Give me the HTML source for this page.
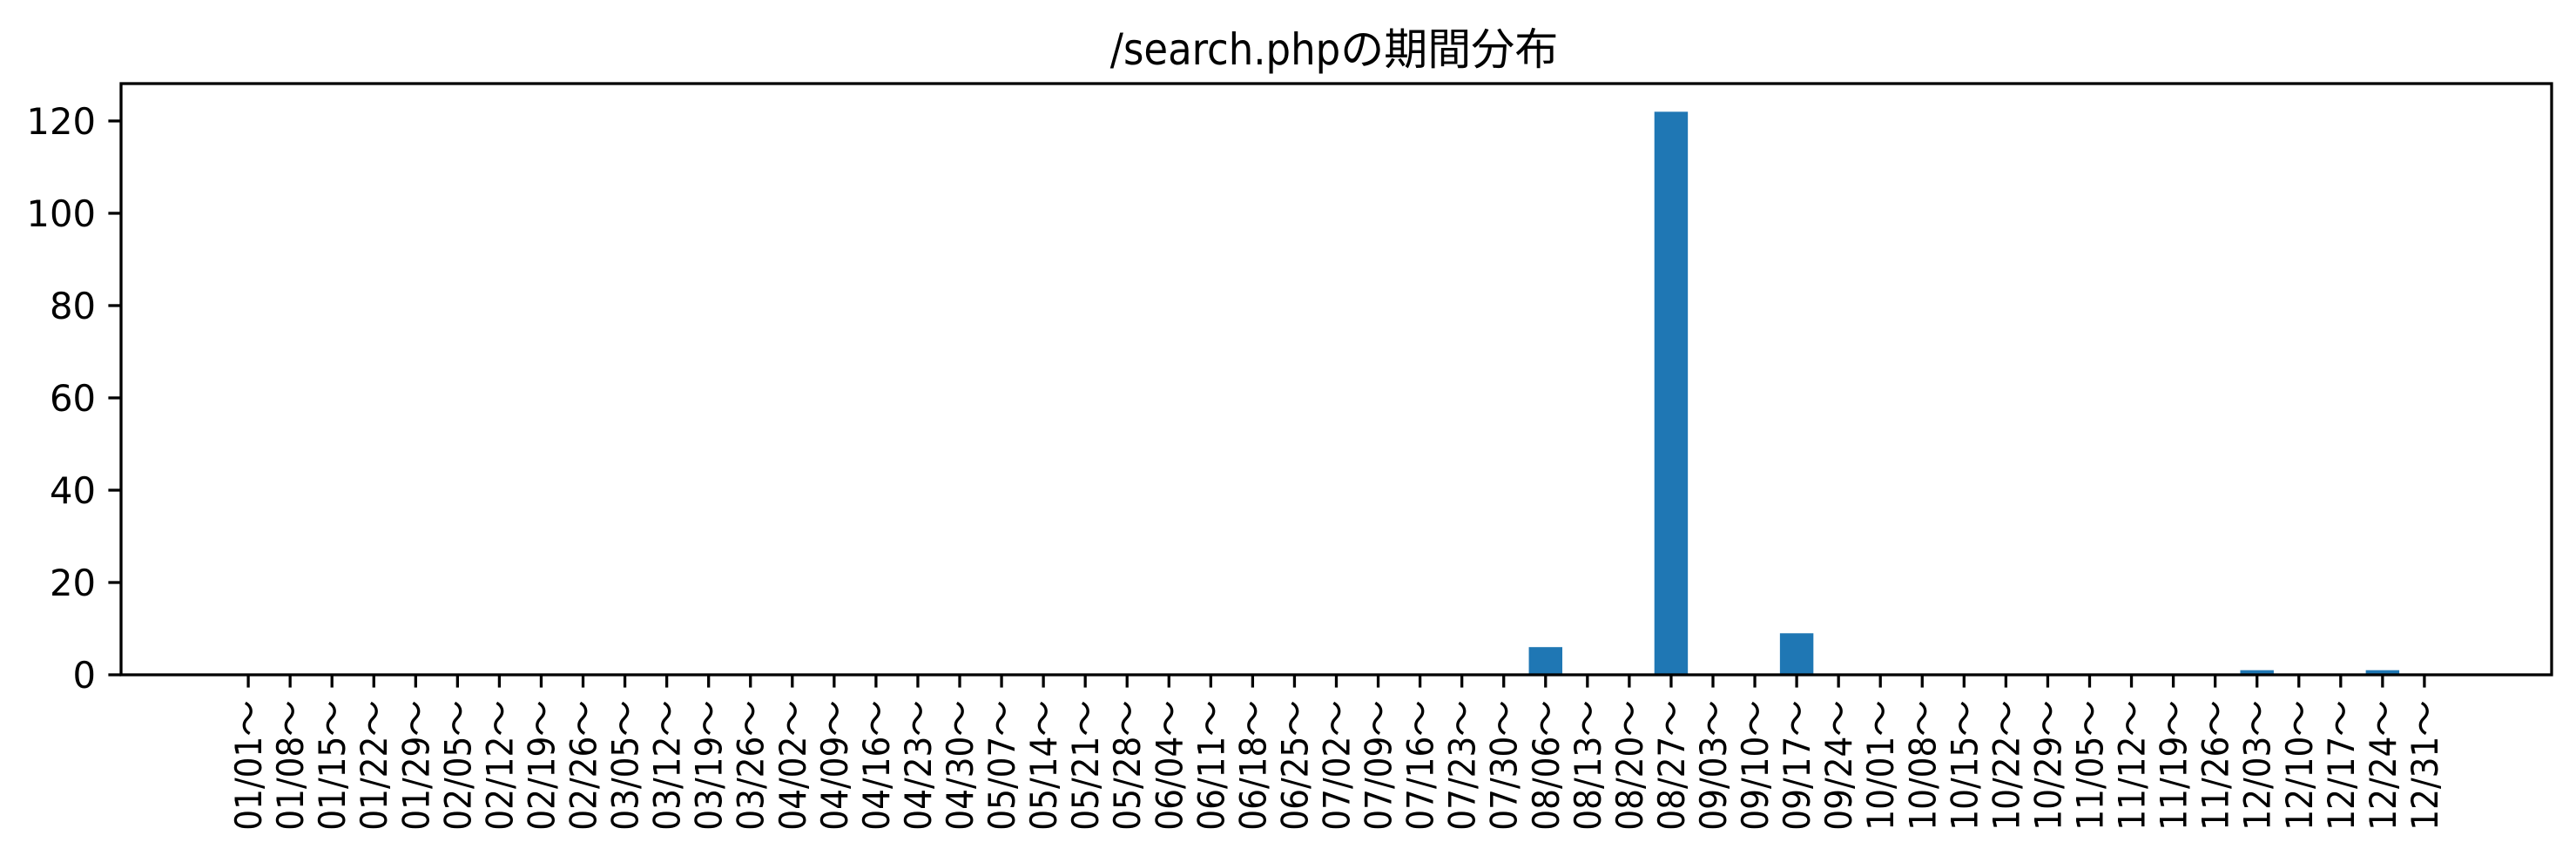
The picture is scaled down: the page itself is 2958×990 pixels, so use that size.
<!DOCTYPE html>
<html><head><meta charset="utf-8">
<style>
html,body{margin:0;padding:0;background:#fff;}
svg{display:block;}
</style></head>
<body>
<svg id="chart" width="2958" height="990" viewBox="0 0 2958 990" xmlns="http://www.w3.org/2000/svg">
<rect width="2958" height="990" fill="#fff"/>
<text x="1532" y="74" text-anchor="middle" font-family="'DejaVu Sans Condensed', 'Noto Sans CJK JP', sans-serif" font-size="50" fill="#000">/search.phpの期間分布</text>
<g id="bars"></g>
<g id="xaxis"></g>
<g id="yaxis"></g>
<rect x="139" y="96" width="2791" height="679" fill="none" stroke="#000" stroke-width="3.3"/>
</svg>
<script>
const categories = ["01/01","01/08","01/15","01/22","01/29","02/05","02/12","02/19","02/26","03/05","03/12","03/19","03/26","04/02","04/09","04/16","04/23","04/30","05/07","05/14","05/21","05/28","06/04","06/11","06/18","06/25","07/02","07/09","07/16","07/23","07/30","08/06","08/13","08/20","08/27","09/03","09/10","09/17","09/24","10/01","10/08","10/15","10/22","10/29","11/05","11/12","11/19","11/26","12/03","12/10","12/17","12/24","12/31"];
const counts = [0,0,0,0,0,0,0,0,0,0,0,0,0,0,0,0,0,0,0,0,0,0,0,0,0,0,0,0,0,0,0,6,0,0,122,0,0,9,0,0,0,0,0,0,0,0,0,0,1,0,0,1,0];
const yTicks = [0,20,40,60,80,100,120];

const NS="http://www.w3.org/2000/svg";
const L=139,R=2930,T=96,B=775;
const xmin=-3.04,xmax=categories.length-1+3.04;
const ymax=Math.max(...counts)*1.05;
function xs(i){return L+(i-xmin)/(xmax-xmin)*(R-L);}
function ys(v){return B-v/ymax*(B-T);}
function mk(tag,attrs,parent){const e=document.createElementNS(NS,tag);for(const k in attrs)e.setAttribute(k,attrs[k]);parent.appendChild(e);return e;}
const bw=(xs(1)-xs(0))*0.8;
const gb=document.getElementById('bars'),gx=document.getElementById('xaxis'),gy=document.getElementById('yaxis');
counts.forEach((v,i)=>{
  const r=mk('rect',{x:xs(i)-bw/2,y:ys(v),width:bw,height:B-ys(v),fill:'#1f77b4'},gb);
  
  
});
categories.forEach((c,i)=>{
  const x=xs(i);
  const t=mk('line',{x1:x,x2:x,y1:B,y2:B+14.6,stroke:'#000','stroke-width':3.3},gx);
  
  
  const tx=mk('text',{x:0,y:0,transform:`translate(${x+15},${B+29}) rotate(-90)`,'text-anchor':'end','font-family':"'DejaVu Sans Condensed', 'Noto Sans CJK JP', sans-serif",'font-size':41.7,fill:'#000'},gx);
  tx.textContent=c+'～';
  
  
});
yTicks.forEach(v=>{
  const y=ys(v);
  const t=mk('line',{x1:L-14.6,x2:L,y1:y,y2:y,stroke:'#000','stroke-width':3.3},gy);
  
  
  const tx=mk('text',{x:L-29,y:y+15,'text-anchor':'end','font-family':"'DejaVu Sans', sans-serif",'font-size':41.7,fill:'#000'},gy);
  tx.textContent=v;
  
  
});
</script>
</body></html>
